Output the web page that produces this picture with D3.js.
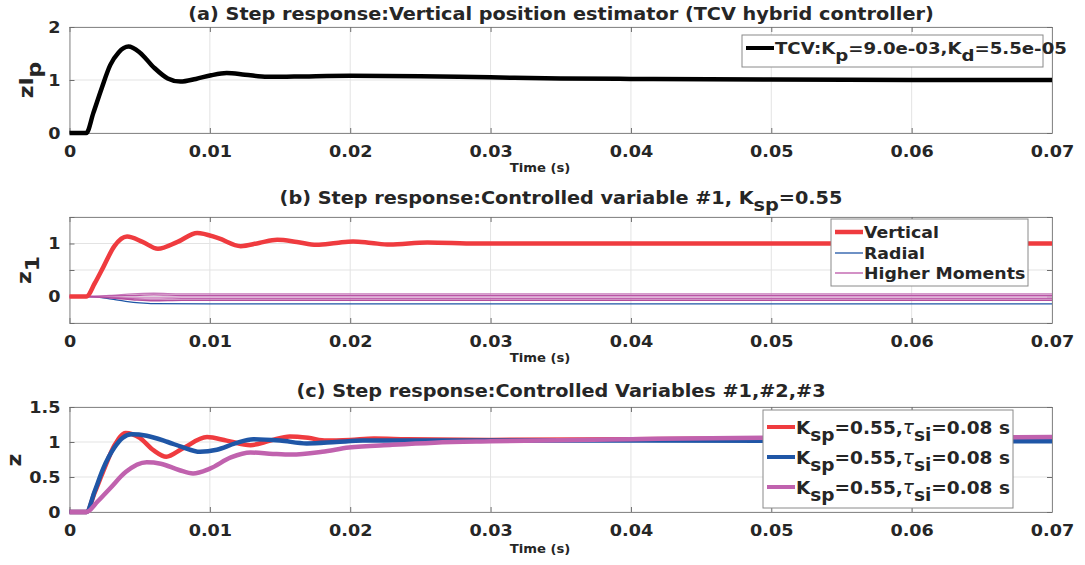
<!DOCTYPE html>
<html>
<head>
<meta charset="utf-8">
<script src="https://cdn.jsdelivr.net/npm/d3@7"></script>
<style>
  body { margin: 0; background: #fff; }
  text { font-family: "DejaVu Sans", sans-serif; fill: #262626; }
</style>
</head>
<body>
<svg id="canvas"></svg>
<script>
// ---- data ----
var xTicks = [0, 0.01, 0.02, 0.03, 0.04, 0.05, 0.06, 0.07];
var xTickLabels = ['0', '0.01', '0.02', '0.03', '0.04', '0.05', '0.06', '0.07'];

// (a) vertical position estimator
var tA = [0, 0.0012, 0.0017, 0.0023, 0.0029, 0.0035, 0.0042, 0.0050, 0.0060, 0.0070, 0.0079, 0.0090, 0.0101, 0.0112, 0.0125, 0.0141, 0.0160, 0.0200, 0.0250, 0.0300, 0.0350, 0.0400, 0.0500, 0.0600, 0.0700];
var zA = [0, 0, 0.38, 0.85, 1.28, 1.52, 1.63, 1.52, 1.24, 1.03, 0.97, 1.02, 1.09, 1.13, 1.10, 1.06, 1.065, 1.08, 1.07, 1.05, 1.03, 1.02, 1.01, 1.0, 1.0];
var yTicksA = [0, 1, 2];

// (b) controlled variable #1
var tV = [0, 0.0012, 0.0018, 0.0024, 0.0032, 0.0041, 0.0052, 0.0063, 0.0077, 0.0091, 0.0106, 0.0122, 0.0135, 0.0148, 0.0162, 0.0176, 0.0190, 0.0202, 0.0215, 0.0228, 0.0255, 0.0290, 0.0400, 0.0700];
var zV = [0, 0, 0.25, 0.55, 0.95, 1.13, 1.03, 0.90, 1.03, 1.20, 1.10, 0.95, 1.01, 1.07, 1.03, 0.975, 1.01, 1.04, 1.01, 0.98, 1.02, 1.0, 1.0, 1.0];
var tR = [0, 0.0012, 0.0020, 0.0030, 0.0040, 0.0050, 0.0060, 0.0100, 0.0200, 0.0700];
var zR = [0, 0, -0.01, -0.05, -0.09, -0.12, -0.135, -0.14, -0.14, -0.14];
var tM = [0, 0.0012, 0.0030, 0.0045, 0.0060, 0.0080, 0.0120, 0.0200, 0.0700];
var zM1 = [0, 0, 0.02, 0.05, 0.06, 0.05, 0.05, 0.05, 0.05];
var zM2 = [0, 0, 0.01, 0.02, 0.03, 0.02, 0.02, 0.02, 0.02];
var zM3 = [0, 0, -0.01, -0.02, -0.02, -0.01, -0.01, -0.01, -0.01];
var zM4 = [0, 0, -0.02, -0.04, -0.05, -0.04, -0.04, -0.04, -0.04];
var zM5 = [0, 0, -0.03, -0.06, -0.08, -0.07, -0.07, -0.07, -0.07];
var yTicksB = [-0.5, 0, 0.5, 1, 1.5];
var yLabelsB = ['', '0', '', '1', ''];

// (c) controlled variables #1,#2,#3
var tC1 = [0, 0.0012, 0.0018, 0.0024, 0.0032, 0.0040, 0.0050, 0.0060, 0.0069, 0.0080, 0.0098, 0.0112, 0.0129, 0.0143, 0.0157, 0.0170, 0.0183, 0.0200, 0.0217, 0.0240, 0.0300, 0.0400, 0.0500, 0.0700];
var zC1 = [0, 0, 0.28, 0.58, 0.95, 1.13, 1.06, 0.88, 0.79, 0.90, 1.07, 1.02, 0.955, 1.02, 1.08, 1.06, 1.02, 1.03, 1.05, 1.04, 1.03, 1.04, 1.05, 1.05];
var tC2 = [0, 0.0012, 0.0018, 0.0024, 0.0032, 0.0038, 0.0044, 0.0055, 0.0070, 0.0080, 0.0093, 0.0105, 0.0118, 0.0131, 0.0150, 0.0169, 0.0190, 0.0209, 0.0250, 0.0300, 0.0400, 0.0700];
var zC2 = [0, 0, 0.30, 0.62, 0.92, 1.06, 1.11, 1.09, 1.0, 0.93, 0.86, 0.89, 0.98, 1.04, 1.02, 0.98, 1.0, 1.02, 1.02, 1.02, 1.02, 1.01];
var tC3 = [0, 0.0012, 0.0020, 0.0029, 0.0040, 0.0055, 0.0065, 0.0078, 0.0088, 0.0100, 0.0115, 0.0129, 0.0145, 0.0158, 0.0180, 0.0199, 0.0230, 0.0260, 0.0300, 0.0400, 0.0500, 0.0700];
var zC3 = [0, 0, 0.15, 0.34, 0.57, 0.71, 0.69, 0.60, 0.55, 0.62, 0.78, 0.85, 0.83, 0.82, 0.86, 0.92, 0.96, 0.99, 1.01, 1.04, 1.06, 1.07];
var yTicksC = [0, 0.5, 1, 1.5];
var yLabelsC = ['0', '0.5', '1', '1.5'];

var red = '#ef3b3f', blue = '#1f56a6', pink = '#c062ae';

// ---- drawing ----
var SX = 1.1;
var svg = d3.select('#canvas').attr('width', 1085).attr('height', 565);
var x = d3.scaleLinear().domain([0, 0.07]).range([69.5, 1052]);

function richText(parent, px, py, parts, size, anchor, rotate, sx) {
    sx = sx || SX;
    var t = parent.append('text')
        .attr('transform', 'translate(' + px + ',' + py + ')' + (rotate ? ' rotate(-90)' : '') + ' scale(' + sx + ',1)')
        .attr('text-anchor', anchor || 'middle')
        .style('font-size', size + 'px')
        .style('font-weight', 'bold');
    var shift = 0;
    parts.forEach(function(p) {
        var sub = Array.isArray(p);
        var str = sub ? p[0] : p;
        var s = t.append('tspan').text(str);
        var target = sub ? size * 0.4 : 0;
        if (target !== shift) {
            s.attr('dy', target - shift);
            shift = target;
        }
        if (str === 'τ') s.style('font-style', 'italic').style('font-weight', 'normal');
    });
    return t;
}

function panel(top, bottom, domain, yTicks, yLabels) {
    var y = d3.scaleLinear().domain(domain).range([bottom, top]);
    var g = svg.append('g');

    g.selectAll('.vgrid').data(xTicks).enter().append('line')
        .attr('x1', function(d) { return x(d); })
        .attr('x2', function(d) { return x(d); })
        .attr('y1', top).attr('y2', bottom)
        .style('stroke', '#e3e3e3');
    g.selectAll('.hgrid').data(yTicks).enter().append('line')
        .attr('x1', x(0)).attr('x2', x(0.07))
        .attr('y1', function(d) { return y(d); })
        .attr('y2', function(d) { return y(d); })
        .style('stroke', '#e3e3e3');

    var axB = g.append('g').attr('transform', 'translate(0,' + bottom + ')')
        .call(d3.axisBottom(x).tickValues(xTicks).tickFormat(function(d, i) { return xTickLabels[i]; })
            .tickSizeInner(-5).tickSizeOuter(0).tickPadding(13));
    var axT = g.append('g').attr('transform', 'translate(0,' + top + ')')
        .call(d3.axisTop(x).tickValues(xTicks).tickFormat('').tickSizeInner(-5).tickSizeOuter(0));
    var axL = g.append('g').attr('transform', 'translate(' + x(0) + ',0)')
        .call(d3.axisLeft(y).tickValues(yTicks).tickFormat(function(d, i) { return yLabels[i]; })
            .tickSizeInner(-5).tickSizeOuter(0).tickPadding(9));
    var axR = g.append('g').attr('transform', 'translate(' + x(0.07) + ',0)')
        .call(d3.axisRight(y).tickValues(yTicks).tickFormat('').tickSizeInner(-5).tickSizeOuter(0));

    [axB, axT, axL, axR].forEach(function(a) {
        a.select('.domain').style('stroke', '#8a8a8a');
        a.selectAll('line').style('stroke', '#6e6e6e');
        a.selectAll('text')
            .style('font-size', '16px')
            .style('font-weight', 'bold')
            .style('font-family', '"DejaVu Sans", sans-serif')
            .attr('fill', '#262626')
            .attr('transform', 'scale(' + SX + ',1)');
    });
    axL.selectAll('text').attr('x', -9 / SX);

    return { g: g, y: y };
}

function curve(p, ts, vs, color, width) {
    var line = d3.line()
        .x(function(d) { return x(d[0]); })
        .y(function(d) { return p.y(d[1]); })
        .curve(d3.curveMonotoneX);
    p.g.append('path')
        .datum(ts.map(function(t, i) { return [t, vs[i]]; }))
        .attr('d', line)
        .style('fill', 'none')
        .style('stroke', color)
        .style('stroke-width', width)
        .style('stroke-linejoin', 'round');
}

function legend(g, bx, by, bw, bh, rows, rowY, size, sx) {
    g.append('rect').attr('x', bx).attr('y', by).attr('width', bw).attr('height', bh)
        .style('fill', '#fff').style('stroke', '#8a8a8a');
    rows.forEach(function(r, i) {
        g.append('line')
            .attr('x1', bx + 4).attr('x2', bx + 32)
            .attr('y1', rowY[i]).attr('y2', rowY[i])
            .style('stroke', r.color).style('stroke-width', r.width);
        richText(g, bx + 33, rowY[i] + size * 0.36, r.parts, size, 'start', false, sx);
    });
}

// panel (a)
var pA = panel(27, 133, [0, 2], yTicksA, ['0', '1', '2']);
curve(pA, tA, zA, '#000', 4.5);
legend(pA.g, 742, 35, 301, 32, [{ color: '#000', width: 4, parts: ['TCV:K', ['p'], '=9.0e-03,K', ['d'], '=5.5e-05'] }], [48], 16.5);
richText(svg, 561, 20, ['(a) Step response:Vertical position estimator (TCV hybrid controller)'], 17.5);
richText(svg, 540, 172, ['Time (s)'], 12);
richText(svg, 33, 80, ['zI', ['p']], 20, 'middle', true);

// panel (b)
var pB = panel(217, 323, [-0.5, 1.5], yTicksB, yLabelsB);
var moments = [zM1, zM2, zM3, zM4, zM5];
var momentColors = ['#c77bbb', '#b955a6', '#d79bcc', '#c062ae', '#b34d9e'];
curve(pB, tR, zR, blue, 1.3);
moments.forEach(function(m, i) { curve(pB, tM, m, momentColors[i], 1.4); });
curve(pB, tV, zV, red, 4.5);
legend(pB.g, 831, 219, 197, 67, [
    { color: red, width: 4.5, parts: ['Vertical'] },
    { color: blue, width: 1.3, parts: ['Radial'] },
    { color: pink, width: 1.4, parts: ['Higher Moments'] }
], [232, 253, 273], 16.5, 1.05);
richText(svg, 561, 204, ['(b) Step response:Controlled variable #1, K', ['sp'], '=0.55'], 17.5);
richText(svg, 540, 362, ['Time (s)'], 12);
richText(svg, 31, 270, ['z', ['1']], 20, 'middle', true);

// panel (c)
var pC = panel(407, 512, [0, 1.5], yTicksC, yLabelsC);
curve(pC, tC1, zC1, red, 4.5);
curve(pC, tC2, zC2, blue, 4.5);
curve(pC, tC3, zC3, pink, 4.5);
var legC = ['K', ['sp'], '=0.55,', 'τ', ['si'], '=0.08 s'];
legend(pC.g, 763, 410, 250, 98, [
    { color: red, width: 4, parts: legC },
    { color: blue, width: 4, parts: legC },
    { color: pink, width: 4, parts: legC }
], [427, 457, 487], 18.5, 1.0);
richText(svg, 561, 397, ['(c) Step response:Controlled Variables #1,#2,#3'], 17.5);
richText(svg, 540, 553, ['Time (s)'], 12);
richText(svg, 21, 460, ['z'], 20, 'middle', true);
</script>
</body>
</html>
